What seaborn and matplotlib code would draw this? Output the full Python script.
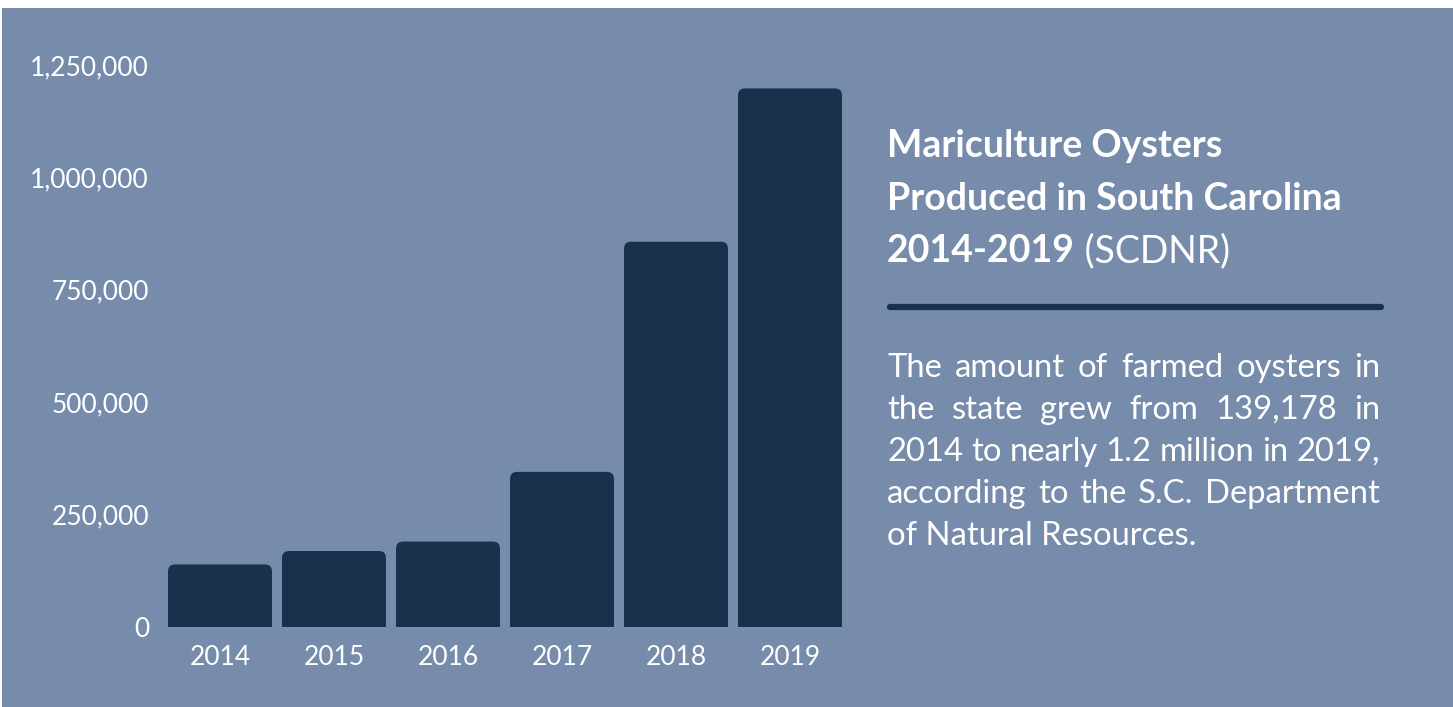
import numpy as np
import pandas as pd
import matplotlib
matplotlib.use("Agg")
import matplotlib.pyplot as plt
import seaborn as sns
from matplotlib.patches import FancyBboxPatch, Rectangle
from matplotlib.lines import Line2D

# data
years = ["2014", "2015", "2016", "2017", "2018", "2019"]
oysters = [139178, 169000, 190000, 345000, 857000, 1198000]
y_ticks = [0, 250000, 500000, 750000, 1000000, 1250000]

title_lines = ["Mariculture Oysters", "Produced in South Carolina", "2014-2019"]
title_source = " (SCDNR)"
body_lines = [
    "The amount of farmed oysters in",
    "the state grew from 139,178 in",
    "2014 to nearly 1.2 million in 2019,",
    "according to the S.C. Department",
    "of Natural Resources.",
]

BG = "#778bab"
BAR = "#18324b"
W, H = 1453, 707

sns.set_theme(style="white")
plt.rcParams["font.family"] = ["Lato", "DejaVu Sans"]

fig = plt.figure(figsize=(W / 100, H / 100), dpi=100, facecolor="white")
# slate panel with thin white margin top/left
fig.patches.append(Rectangle((2 / W, 0), 1, 1 - 8 / H, transform=fig.transFigure,
                             facecolor=BG, edgecolor="none", zorder=-5))

ax = fig.add_axes([163 / W, 1 - 627 / H, (847 - 163) / W, (627 - 65) / H])
ax.set_facecolor(BG)
ax.patch.set_alpha(0)
ax.set_zorder(2)

df = pd.DataFrame({"year": years, "oysters": oysters})
sns.barplot(data=df, x="year", y="oysters", color=BAR, width=0.912, saturation=1, ax=ax)

ax.set_ylim(0, 1250000)
ax.set_xlim(-0.5, len(years) - 0.5)

# swap bars for top-rounded versions
px_per_x = (847 - 163) / len(years)
px_per_y = (627 - 65) / 1250000
r = 7
for p in list(ax.patches):
    x0, y0 = p.get_x(), p.get_y()
    w, h = p.get_width(), p.get_height()
    p.set_visible(False)
    rx = r / px_per_x
    ry = r / px_per_y
    fb = FancyBboxPatch((x0, y0 - ry * 2), w, h + ry * 2,
                        boxstyle=f"round,pad=0,rounding_size={rx}",
                        mutation_aspect=ry / rx,
                        facecolor=BAR, edgecolor="none", zorder=2)
    ax.add_patch(fb)

ax.set_yticks(y_ticks)
ax.set_yticklabels([f"{v:,}" for v in y_ticks])
ax.set_xlabel("")
ax.set_ylabel("")
ax.tick_params(axis="y", length=0, pad=10, labelsize=19, labelcolor="white")
ax.tick_params(axis="x", length=0, pad=13, labelsize=19, labelcolor="white")
sns.despine(ax=ax, left=True, bottom=True)


def fy(y):
    return 1 - y / H


# title block
tx = 887
title_baselines = [157, 210, 262]
for i, line in enumerate(title_lines):
    t = fig.text(tx / W, fy(title_baselines[i]), line, color="white", fontsize=27,
                 fontweight="bold", va="baseline", ha="left")
renderer = fig.canvas.get_renderer()
bb = t.get_window_extent(renderer)
fig.text(bb.x1 / W, fy(title_baselines[2]), title_source, color="white", fontsize=27,
         va="baseline", ha="left")

# divider
fig.lines.append(Line2D([890 / W, 1381 / W], [fy(307), fy(307)], transform=fig.transFigure,
                        color=BAR, linewidth=4.5, solid_capstyle="round"))

# justified body text
left, right = 887, 1380
body_baselines = [377, 419, 461, 503, 545]
for i, line in enumerate(body_lines):
    words = line.split(" ")
    last = i == len(body_lines) - 1
    if last:
        fig.text(left / W, fy(body_baselines[i]), line, color="white", fontsize=23.6,
                 va="baseline", ha="left")
        continue
    objs = [fig.text(0, fy(body_baselines[i]), wd, color="white", fontsize=23.6,
                     va="baseline", ha="left") for wd in words]
    widths = [o.get_window_extent(renderer).width for o in objs]
    gap = (right - left - sum(widths)) / (len(words) - 1)
    x = left
    for o, wdt in zip(objs, widths):
        o.set_x(x / W)
        x += wdt + gap

fig.savefig("out.png", dpi=100, facecolor=fig.get_facecolor())
